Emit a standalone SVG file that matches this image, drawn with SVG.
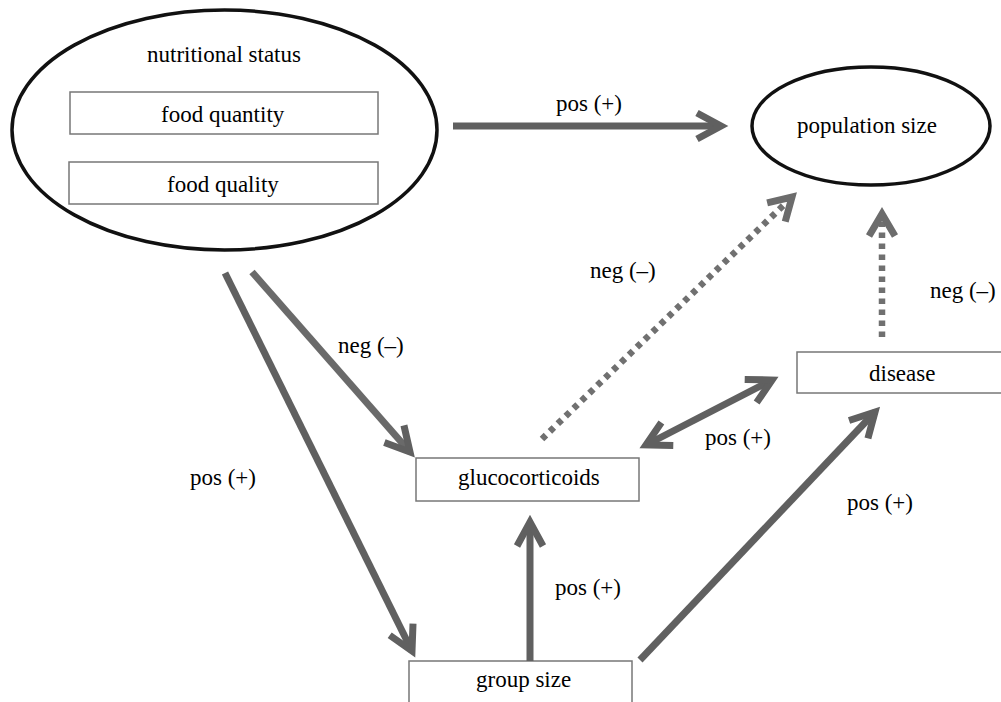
<svg xmlns="http://www.w3.org/2000/svg" width="1001" height="702" viewBox="0 0 1001 702">
<defs>
<marker id="ah" markerUnits="userSpaceOnUse" viewBox="-40 -22 50 44" markerWidth="50" markerHeight="44" refX="0" refY="0" orient="auto-start-reverse" overflow="visible">
<path d="M-24,-13 L0,0 L-24,13" fill="none" stroke="#606060" stroke-width="7"/>
</marker>
<marker id="ahd" markerUnits="userSpaceOnUse" viewBox="-40 -22 50 44" markerWidth="50" markerHeight="44" refX="0" refY="0" orient="auto" overflow="visible">
<path d="M-22,-13 L0,0 L-22,13" fill="none" stroke="#6c6c6c" stroke-width="7"/>
</marker>
</defs>
<rect width="1001" height="702" fill="#fff"/>
<g id="nutritional-status">
<ellipse cx="224.5" cy="130" rx="212.5" ry="120" fill="#fff" stroke="#111" stroke-width="3.5"/>
<text x="147" y="62" font-size="23" font-family="Times New Roman, Liberation Serif, serif">nutritional status</text>
</g>
<g id="food-quantity">
<rect x="70" y="92" width="308" height="42" fill="#fff" stroke="#777" stroke-width="1.5"/>
<text x="161" y="122" font-size="23" font-family="Times New Roman, Liberation Serif, serif">food quantity</text>
</g>
<g id="food-quality">
<rect x="69" y="162" width="309" height="42" fill="#fff" stroke="#777" stroke-width="1.5"/>
<text x="167" y="192" font-size="23" font-family="Times New Roman, Liberation Serif, serif">food quality</text>
</g>
<g id="population-size">
<ellipse cx="871" cy="126" rx="119" ry="59" fill="#fff" stroke="#111" stroke-width="3.5"/>
<text x="797" y="133" font-size="23" font-family="Times New Roman, Liberation Serif, serif">population size</text>
</g>
<g id="disease">
<rect x="797" y="352" width="212" height="41" fill="#fff" stroke="#777" stroke-width="1.5"/>
<text x="869" y="381" font-size="23" font-family="Times New Roman, Liberation Serif, serif">disease</text>
</g>
<g id="glucocorticoids">
<rect x="416" y="458" width="223" height="43" fill="#fff" stroke="#777" stroke-width="1.5"/>
<text x="458" y="485" font-size="23" font-family="Times New Roman, Liberation Serif, serif">glucocorticoids</text>
</g>
<g id="group-size">
<rect x="409" y="661" width="223" height="50" fill="#fff" stroke="#777" stroke-width="1.5"/>
<text x="476" y="687" font-size="23" font-family="Times New Roman, Liberation Serif, serif">group size</text>
</g>
<g id="connectors" fill="none" stroke="#606060" stroke-width="7">
<line x1="453" y1="126" x2="721" y2="126" marker-end="url(#ah)"/>
<line x1="225" y1="273" x2="412" y2="651" marker-end="url(#ah)"/>
<line x1="252" y1="272" x2="410" y2="452" marker-end="url(#ah)" stroke="#6a6a6a"/>
<line x1="530" y1="661" x2="530" y2="522" marker-end="url(#ah)"/>
<line x1="640" y1="660" x2="875" y2="412" marker-end="url(#ah)"/>
<line x1="646" y1="445" x2="772" y2="380" marker-start="url(#ah)" marker-end="url(#ah)"/>
<g stroke="#707070" stroke-width="6.5" stroke-dasharray="5.5 5.5">
<line x1="542" y1="439" x2="792" y2="197" marker-end="url(#ahd)"/>
<line x1="882" y1="337" x2="882" y2="214" marker-end="url(#ahd)"/>
</g>
</g>
<g id="labels">
<text x="556" y="111" font-size="23" font-family="Times New Roman, Liberation Serif, serif">pos (+)</text>
<text x="338" y="353" font-size="23" font-family="Times New Roman, Liberation Serif, serif">neg (&#8211;)</text>
<text x="190" y="485" font-size="23" font-family="Times New Roman, Liberation Serif, serif">pos (+)</text>
<text x="590" y="278" font-size="23" font-family="Times New Roman, Liberation Serif, serif">neg (&#8211;)</text>
<text x="930" y="298" font-size="23" font-family="Times New Roman, Liberation Serif, serif">neg (&#8211;)</text>
<text x="705" y="445" font-size="23" font-family="Times New Roman, Liberation Serif, serif">pos (+)</text>
<text x="555" y="595" font-size="23" font-family="Times New Roman, Liberation Serif, serif">pos (+)</text>
<text x="847" y="510" font-size="23" font-family="Times New Roman, Liberation Serif, serif">pos (+)</text>
</g>
</svg>
